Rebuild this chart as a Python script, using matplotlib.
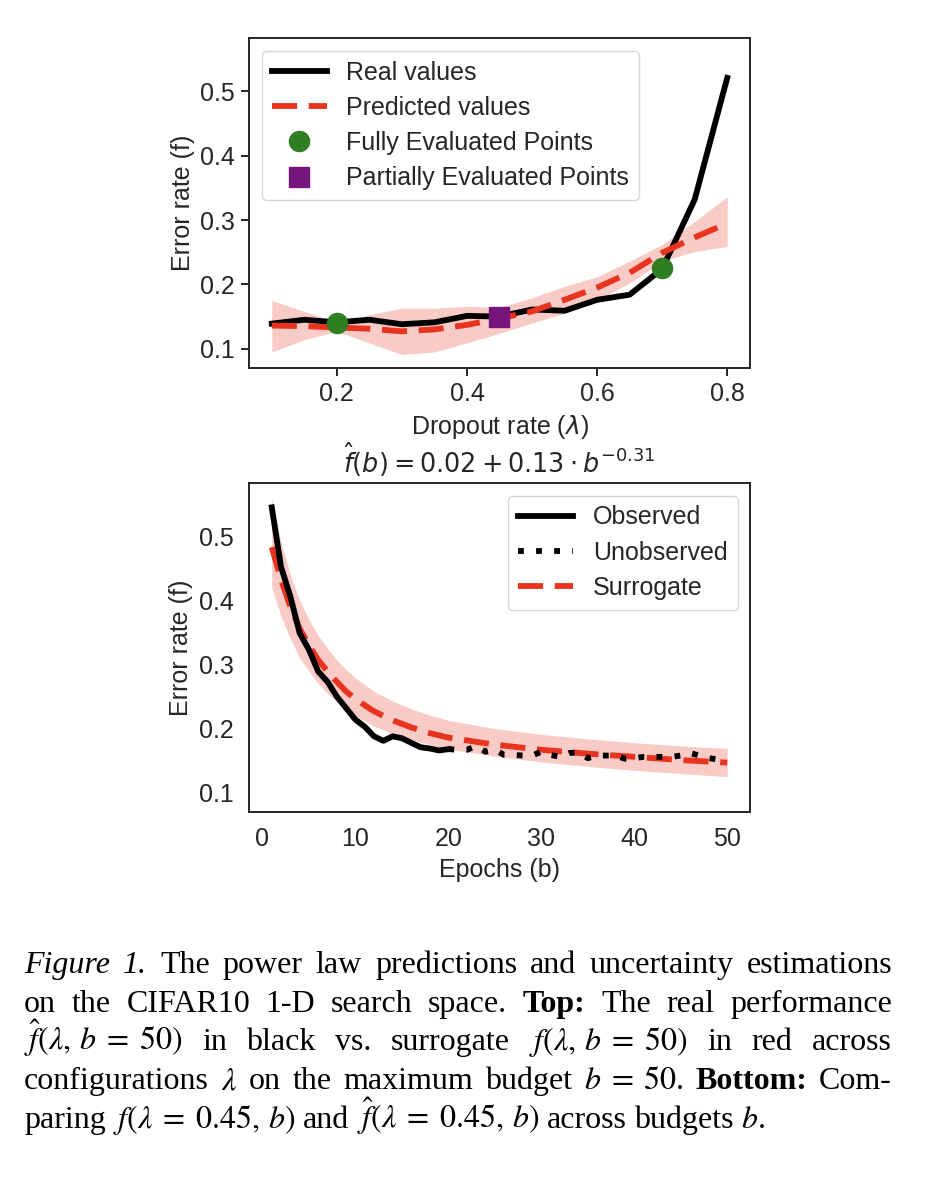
import matplotlib.pyplot as plt
import numpy as np

# ---- top panel: error at b = 50 across dropout rates
dropout = [0.1, 0.15, 0.2, 0.25, 0.3, 0.35, 0.4, 0.45, 0.5, 0.55, 0.6, 0.65, 0.7, 0.75, 0.8]
real_err = [0.139, 0.145, 0.141, 0.145, 0.138, 0.141, 0.151, 0.150, 0.161, 0.159, 0.176, 0.184, 0.224, 0.332, 0.521]
pred_err = [0.136, 0.135, 0.133, 0.131, 0.127, 0.130, 0.137, 0.147, 0.158, 0.176, 0.195, 0.218, 0.249, 0.273, 0.295]
pred_lo = [0.095, 0.114, 0.127, 0.109, 0.091, 0.095, 0.109, 0.124, 0.140, 0.155, 0.176, 0.202, 0.236, 0.251, 0.259]
pred_hi = [0.175, 0.158, 0.141, 0.153, 0.163, 0.163, 0.166, 0.164, 0.179, 0.197, 0.212, 0.236, 0.262, 0.298, 0.336]
full_x = [0.2, 0.7]
full_y = [0.140, 0.225]
part_x = [0.45]
part_y = [0.150]

# ---- bottom panel: learning curve at dropout 0.45
obs_epochs = np.arange(1, 21)
obs_err = [0.545, 0.452, 0.406, 0.349, 0.323, 0.289, 0.273, 0.250, 0.232, 0.214,
           0.203, 0.188, 0.181, 0.188, 0.185, 0.178, 0.171, 0.169, 0.166, 0.168]
unobs_epochs = np.arange(20, 51)
unobs_err = [0.168, 0.167, 0.167, 0.173, 0.164, 0.167, 0.159, 0.159, 0.158, 0.158,
             0.164, 0.159, 0.156, 0.162, 0.163, 0.154, 0.158, 0.158, 0.158, 0.153,
             0.154, 0.156, 0.156, 0.156, 0.156, 0.158, 0.162, 0.158, 0.154, 0.152, 0.151]
sur_epochs = [1, 2, 3, 4, 5, 6, 7, 8, 9, 10, 12, 14, 16, 18, 20, 25, 30, 35, 40, 45, 50]
sur_err = [0.483, 0.432, 0.390, 0.356, 0.330, 0.307, 0.289, 0.273, 0.258, 0.246, 0.227,
           0.213, 0.202, 0.193, 0.186, 0.175, 0.167, 0.161, 0.156, 0.151, 0.147]
sur_lo = [0.420, 0.375, 0.340, 0.310, 0.290, 0.270, 0.255, 0.242, 0.230, 0.220, 0.204,
          0.192, 0.183, 0.175, 0.168, 0.157, 0.148, 0.141, 0.135, 0.130, 0.125]
sur_hi = [0.560, 0.490, 0.440, 0.400, 0.370, 0.345, 0.325, 0.307, 0.292, 0.279, 0.258,
          0.243, 0.231, 0.221, 0.213, 0.200, 0.191, 0.184, 0.178, 0.173, 0.169]

RED = '#e8331f'
GREEN = '#2f7f22'
PURPLE = '#76157c'
DARK = '#262626'

plt.rcParams.update({
    'font.family': ['Liberation Sans', 'DejaVu Sans'],
    'font.size': 18,
    'mathtext.fontset': 'dejavusans',
    'axes.edgecolor': DARK,
    'axes.linewidth': 1.4,
    'xtick.color': DARK,
    'ytick.color': DARK,
    'axes.labelcolor': DARK,
    'text.color': DARK,
    'legend.edgecolor': '#cccccc',
})

W, H = 926, 1180
fig = plt.figure(figsize=(W / 100, H / 100), dpi=100)
ax1 = fig.add_axes([249 / W, 1 - 368 / H, 501 / W, 330 / H])
ax2 = fig.add_axes([249 / W, 1 - 812 / H, 501 / W, 329 / H])

lw = 4.2

# top
ax1.fill_between(dropout, pred_lo, pred_hi, color=RED, alpha=0.25, lw=0)
ax1.plot(dropout, real_err, color='black', lw=lw, label='Real values', zorder=3)
ax1.plot(dropout, pred_err, color=RED, lw=lw, dashes=(4.3, 2), label='Predicted values', zorder=3)
ax1.plot(full_x, full_y, 'o', color=GREEN, ms=14.5, ls='none', label='Fully Evaluated Points', zorder=4)
ax1.plot(part_x, part_y, 's', color=PURPLE, ms=14.5, ls='none', label='Partially Evaluated Points', zorder=4)
ax1.set_ylim(0.07, 0.583)
ax1.set_xticks([0.2, 0.4, 0.6, 0.8])
ax1.set_yticks([0.1, 0.2, 0.3, 0.4, 0.5])
ax1.tick_params(direction='out', length=6, width=1.4, pad=4)
ax1.set_xlabel(r'Dropout rate ($\lambda$)', labelpad=5)
ax1.set_ylabel('Error rate (f)')
ax1.legend(loc='upper left', handlelength=2.2, framealpha=0.8, borderaxespad=0.5,
           labelspacing=0.45)

# bottom
ax2.fill_between(sur_epochs, sur_lo, sur_hi, color=RED, alpha=0.25, lw=0)
ax2.plot(obs_epochs, obs_err, color='black', lw=lw, label='Observed', zorder=3)
ax2.plot(unobs_epochs, unobs_err, color='black', lw=lw, dashes=(1, 2.1), label='Unobserved', zorder=3)
ax2.plot(sur_epochs, sur_err, color=RED, lw=lw, dashes=(4.3, 2), label='Surrogate', zorder=2.5)
ax2.set_ylim(0.07, 0.583)
ax2.set_xticks([0, 10, 20, 30, 40, 50])
ax2.set_yticks([0.1, 0.2, 0.3, 0.4, 0.5])
ax2.tick_params(length=0, pad=11)
ax2.set_xlabel('Epochs (b)', labelpad=5)
ax2.set_ylabel('Error rate (f)')
ax2.set_title(r'$\hat{f}(b) = 0.02 + 0.13 \cdot b^{-0.31}$', pad=7, fontsize=18.4)
ax2.legend(loc='upper right', handlelength=2.2, framealpha=0.8, borderaxespad=0.5,
           labelspacing=0.45)

# ---- caption, justified line by line
caption = [
    [('Figure', 'i'), ('1.', 'i'), ('The', ''), ('power', ''), ('law', ''), ('predictions', ''),
     ('and', ''), ('uncertainty', ''), ('estimations', '')],
    [('on', ''), ('the', ''), ('CIFAR10', ''), ('1-D', ''), ('search', ''), ('space.', ''),
     ('Top:', 'b'), ('The', ''), ('real', ''), ('performance', '')],
    [(r'$\hat{f}(\lambda,\, b\;=\;50)$', ''), ('in', ''), ('black', ''), ('vs.', ''), ('surrogate', ''),
     (r'$f(\lambda,\, b\;=\;50)$', ''), ('in', ''), ('red', ''), ('across', '')],
    [('configurations', ''), (r'$\lambda$', ''), ('on', ''), ('the', ''), ('maximum', ''),
     ('budget', ''), (r'$b\;=\;50$.', ''), ('Bottom:', 'b'), ('Com-', '')],
    [('paring', ''), (r'$f(\lambda\;=\;0.45,\, b)$', ''), ('and', ''), (r'$\hat{f}(\lambda\;=\;0.45,\, b)$', ''),
     ('across', ''), ('budgets', ''), (r'$b$.', '')],
]
baselines = [973, 1012, 1050, 1089, 1128]
x_left, x_right = 24, 892

renderer = fig.canvas.get_renderer()
for i, (words, base) in enumerate(zip(caption, baselines)):
    texts = []
    for word, kind in words:
        t = fig.text(0, 1 - base / H, word, fontsize=23, family='Liberation Serif',
                     math_fontfamily='stix', color='black', va='baseline', ha='left',
                     style='italic' if kind == 'i' else 'normal',
                     weight='bold' if kind == 'b' else 'normal')
        texts.append(t)
    widths = [t.get_window_extent(renderer).width for t in texts]
    if i < len(caption) - 1:
        gap = (x_right - x_left - sum(widths)) / (len(texts) - 1)
    else:
        gap = 7.5
    x = x_left
    for t, w in zip(texts, widths):
        t.set_x(x / W)
        x += w + gap

fig.savefig('out.png', dpi=100, facecolor='white')
